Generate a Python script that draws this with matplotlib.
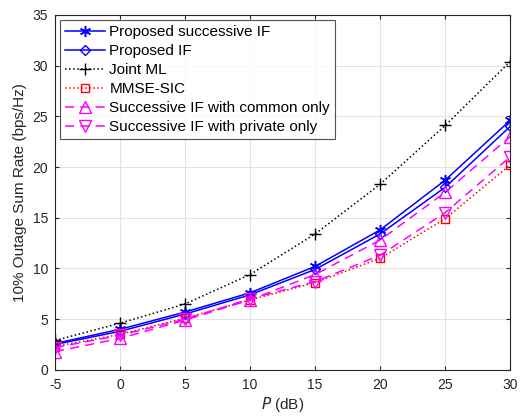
import matplotlib
matplotlib.use('Agg')
import matplotlib.pyplot as plt

plt.rcParams['font.family'] = ['Liberation Sans', 'DejaVu Sans']
plt.rcParams['axes.unicode_minus'] = False

P_dB = [-5, 0, 5, 10, 15, 20, 25, 30]
succ_if = [2.6, 4.0, 5.7, 7.6, 10.2, 13.8, 18.7, 24.6]
prop_if = [2.5, 3.8, 5.5, 7.4, 9.9, 13.4, 18.0, 24.0]
joint_ml = [2.9, 4.6, 6.5, 9.4, 13.4, 18.3, 24.1, 30.4]
mmse_sic = [2.3, 3.5, 5.1, 6.9, 8.6, 11.0, 14.9, 20.2]
common_only = [1.8, 3.1, 4.9, 6.9, 9.4, 12.8, 17.5, 23.0]
private_only = [2.2, 3.4, 5.0, 7.0, 8.7, 11.3, 15.5, 21.0]

fig = plt.figure(figsize=(5.2, 4.16), dpi=100)
ax = fig.add_axes([0.106, 0.111, 0.875, 0.853])

ax.plot(P_dB, succ_if, '-', color='#0000ff', marker=(6, 2, 0), ms=8, mew=1.1, lw=1.1,
        label='Proposed successive IF')
ax.plot(P_dB, prop_if, '-', color='#0000ff', marker='D', ms=5.5, mfc='none', lw=1.1,
        label='Proposed IF')
ax.plot(P_dB, joint_ml, ':', color='black', marker='+', ms=8, lw=1.1,
        label='Joint ML')
ax.plot(P_dB, mmse_sic, ':', color='#ff0000', marker='s', ms=6, mfc='none', lw=1.1,
        label='MMSE-SIC')
ax.plot(P_dB, common_only, '--', color='#ff00ff', marker='^', ms=8, mfc='none', lw=1.1,
        dashes=(6, 4), label='Successive IF with common only')
ax.plot(P_dB, private_only, '--', color='#ff00ff', marker='v', ms=8, mfc='none', lw=1.1,
        dashes=(6, 4), label='Successive IF with private only')

ax.set_xlim(-5, 30)
ax.set_ylim(0, 35)
ax.set_xticks(range(-5, 31, 5))
ax.set_yticks(range(0, 36, 5))
ax.grid(True, color='#e3e3e3', lw=0.8)
ax.set_axisbelow(True)
ax.tick_params(direction='in', top=True, right=True, labelsize=10, colors='#262626',
               labelcolor='#262626', length=3)
ax.tick_params(axis='x', pad=6)
ax.tick_params(axis='y', pad=5)
for s in ax.spines.values():
    s.set_color('#262626')
    s.set_linewidth(0.8)
ax.set_xlabel('$\\it{P}$ (dB)', fontsize=11, color='#262626', labelpad=2)
ax.set_ylabel('10% Outage Sum Rate (bps/Hz)', fontsize=11, color='#262626')

leg = ax.legend(loc='upper left', fontsize=11, frameon=True, fancybox=False,
                edgecolor='#262626', borderaxespad=0.3, handlelength=2.6,
                handletextpad=0.3, labelspacing=0.33, borderpad=0.35)
leg.get_frame().set_linewidth(0.8)

fig.savefig('out.png', dpi=100)
